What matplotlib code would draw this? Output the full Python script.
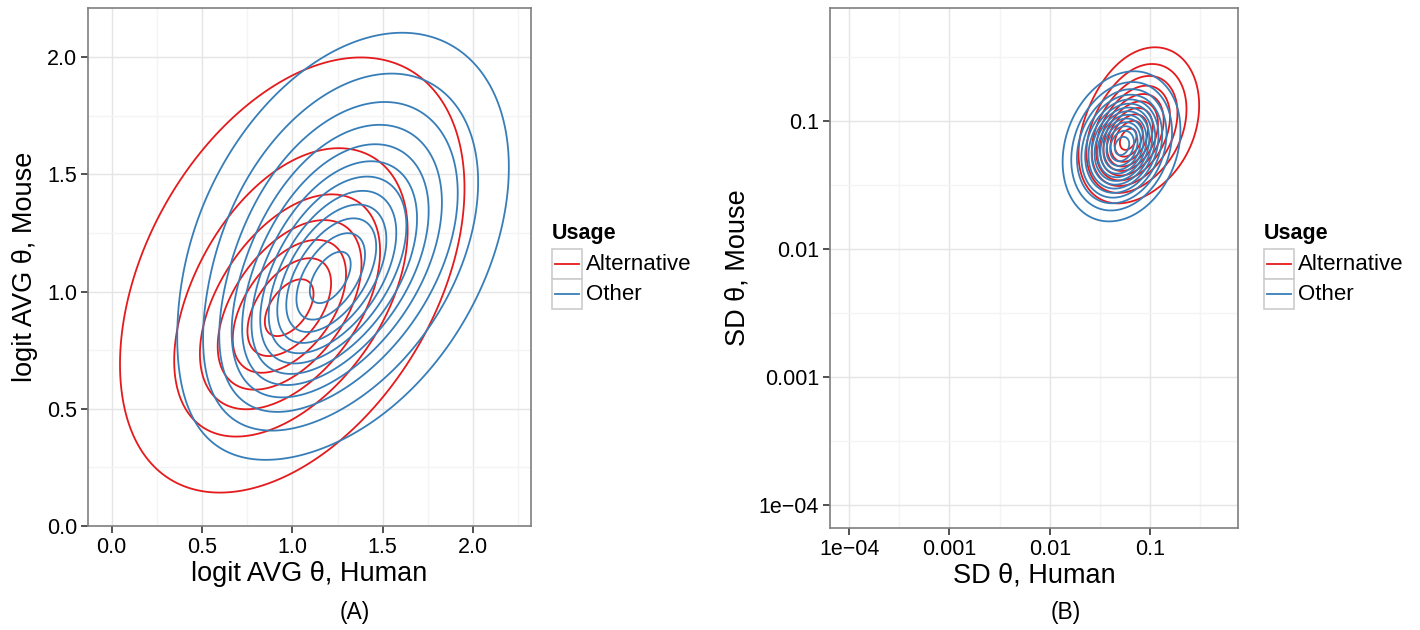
import numpy as np
import matplotlib
matplotlib.use("Agg")
import matplotlib.pyplot as plt
from matplotlib.lines import Line2D
from matplotlib.patches import Rectangle

plt.rcParams['font.family'] = ['Liberation Sans', 'DejaVu Sans']

RED = "#E41A1C"
BLUE = "#377EB8"
usage = ["Alternative", "Other"]

# density components (mean x, mean y, sd x, sd y, rho, weight) per usage group
# panel A: logit AVG theta
avg_alt_mx = [0.98, 1.00]
avg_alt_my = [0.92, 1.08]
avg_alt_sx = [0.28, 0.68]
avg_alt_sy = [0.25, 0.66]
avg_alt_rho = [0.50, 0.40]
avg_alt_w = [0.22, 0.78]
avg_alt_nlev = 7

avg_oth_mx = [1.16, 1.29]
avg_oth_my = [0.99, 1.22]
avg_oth_sx = [0.30, 0.46]
avg_oth_sy = [0.28, 0.45]
avg_oth_rho = [0.55, 0.35]
avg_oth_w = [0.25, 0.75]
avg_oth_nlev = 12

# panel B: log10 SD theta
sd_alt_mx = [-1.27, -1.06]
sd_alt_my = [-1.19, -0.99]
sd_alt_sx = [0.20, 0.30]
sd_alt_sy = [0.20, 0.31]
sd_alt_rho = [0.25, 0.20]
sd_alt_w = [0.35, 0.65]
sd_alt_nlev = 10

sd_oth_mx = [-1.27, -1.29]
sd_oth_my = [-1.19, -1.20]
sd_oth_sx = [0.22, 0.27]
sd_oth_sy = [0.22, 0.27]
sd_oth_rho = [0.25, 0.20]
sd_oth_w = [0.3, 0.7]
sd_oth_nlev = 14


def mixture(X, Y, mx, my, sx, sy, rho, w):
    z = np.zeros_like(X)
    for a, b, s, t, r, k in zip(mx, my, sx, sy, rho, w):
        dx = (X - a) / s
        dy = (Y - b) / t
        q = (dx ** 2 - 2 * r * dx * dy + dy ** 2) / (1 - r ** 2)
        z += k * np.exp(-q / 2) / (2 * np.pi * s * t * np.sqrt(1 - r ** 2))
    return z


def draw_contours(ax, X, Y, Z, n, color, PX=None, PY=None):
    peak = Z.max()
    levels = peak * np.arange(1, n + 1) / (n + 0.6)
    if PX is None:
        PX, PY = X, Y
    ax.contour(PX, PY, Z, levels=levels, colors=color, linewidths=1.3)


def style(ax):
    ax.set_facecolor("white")
    for s in ax.spines.values():
        s.set_color("#7F7F7F")
        s.set_linewidth(1.2)
    ax.grid(True, which="major", color="#E5E5E5", linewidth=1.0)
    ax.grid(True, which="minor", color="#F4F4F4", linewidth=1.0)
    ax.set_axisbelow(True)
    ax.tick_params(which="major", length=5, width=1.2, color="#333333",
                   labelsize=15.5, pad=3)
    ax.tick_params(which="minor", length=0)


def legend(fig, x0, y0):
    W, H = 1420.0, 630.0
    fig.text(x0 / W, 1 - 234 / H, "Usage", fontsize=15.5, fontweight="bold",
             ha="left", va="center")
    for i, (lab, col) in enumerate(zip(usage, [RED, BLUE])):
        top = y0 + 30 * i
        fig.patches.append(Rectangle((x0 / W, 1 - (top + 30) / H), 30 / W, 30 / H,
                                     transform=fig.transFigure, facecolor="white",
                                     edgecolor="#CCCCCC", linewidth=1.2))
        fig.lines.append(Line2D([(x0 + 3) / W, (x0 + 27) / W],
                                [1 - (top + 15) / H] * 2, transform=fig.transFigure,
                                color=col, linewidth=1.3))
        fig.text((x0 + 34) / W, 1 - (top + 15) / H, lab, fontsize=16,
                 ha="left", va="center")


fig = plt.figure(figsize=(14.2, 6.3), dpi=100)
axA = fig.add_axes([88 / 1420, 1 - 526 / 630, 443 / 1420, 518 / 630])
axB = fig.add_axes([830 / 1420, 1 - 528 / 630, 408 / 1420, 520 / 630])

# panel A
gx = np.linspace(-1.0, 3.2, 450)
gy = np.linspace(-1.0, 3.2, 450)
X, Y = np.meshgrid(gx, gy)
Za = mixture(X, Y, avg_alt_mx, avg_alt_my, avg_alt_sx, avg_alt_sy, avg_alt_rho, avg_alt_w)
Zo = mixture(X, Y, avg_oth_mx, avg_oth_my, avg_oth_sx, avg_oth_sy, avg_oth_rho, avg_oth_w)
draw_contours(axA, X, Y, Za, avg_alt_nlev, RED)
draw_contours(axA, X, Y, Zo, avg_oth_nlev, BLUE)
axA.set_xlim(-0.13, 2.32)
axA.set_ylim(0.0, 2.21)
axA.set_xticks([0.0, 0.5, 1.0, 1.5, 2.0])
axA.set_xticklabels(["0.0", "0.5", "1.0", "1.5", "2.0"])
axA.set_yticks([0.0, 0.5, 1.0, 1.5, 2.0])
axA.set_yticklabels(["0.0", "0.5", "1.0", "1.5", "2.0"])
axA.set_xticks([0.25, 0.75, 1.25, 1.75, 2.25], minor=True)
axA.set_yticks([0.25, 0.75, 1.25, 1.75], minor=True)
style(axA)
axA.set_xlabel("logit AVG θ, Human", fontsize=19.5, labelpad=2)
axA.set_ylabel("logit AVG θ, Mouse", fontsize=19.5, labelpad=6)

# panel B (densities in log10 space)
lx = np.linspace(-4.5, 0.5, 500)
ly = np.linspace(-4.5, 0.5, 500)
U, V = np.meshgrid(lx, ly)
Zba = mixture(U, V, sd_alt_mx, sd_alt_my, sd_alt_sx, sd_alt_sy, sd_alt_rho, sd_alt_w)
Zbo = mixture(U, V, sd_oth_mx, sd_oth_my, sd_oth_sx, sd_oth_sy, sd_oth_rho, sd_oth_w)
draw_contours(axB, U, V, Zba, sd_alt_nlev, RED, 10 ** U, 10 ** V)
draw_contours(axB, U, V, Zbo, sd_oth_nlev, BLUE, 10 ** U, 10 ** V)
axB.set_xscale("log")
axB.set_yscale("log")
axB.set_xlim(10 ** -4.19, 10 ** -0.125)
axB.set_ylim(10 ** -4.18, 10 ** -0.117)
sd_ticks = [1e-4, 1e-3, 1e-2, 1e-1]
sd_labels = ["1e\u221204", "0.001", "0.01", "0.1"]
axB.set_xticks(sd_ticks)
axB.set_xticklabels(sd_labels)
axB.set_yticks(sd_ticks)
axB.set_yticklabels(sd_labels)
mids = [10 ** -3.5, 10 ** -2.5, 10 ** -1.5, 10 ** -0.5]
axB.set_xticks(mids, minor=True)
axB.set_yticks(mids, minor=True)
axB.xaxis.set_minor_formatter(matplotlib.ticker.NullFormatter())
axB.yaxis.set_minor_formatter(matplotlib.ticker.NullFormatter())
style(axB)
axB.set_xlabel("SD θ, Human", fontsize=19.5, labelpad=2)
axB.set_ylabel("SD θ, Mouse", fontsize=19.5, labelpad=6)

legend(fig, 552, 249)
legend(fig, 1264, 249)

fig.text(355 / 1420, 1 - 612 / 630, "(A)", fontsize=16.5, ha="center", va="center")
fig.text(1066 / 1420, 1 - 612 / 630, "(B)", fontsize=16.5, ha="center", va="center")

fig.savefig("out.png", dpi=100, facecolor="white")
